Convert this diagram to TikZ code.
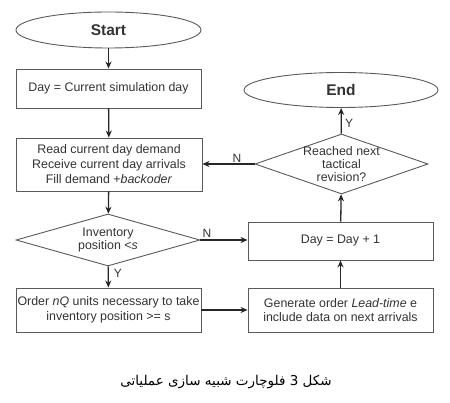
\documentclass[tikz,border=0pt]{standalone}
\usepackage{fontspec}
\setmainfont{Liberation Sans}
\newfontfamily\arabicfont[Script=Arabic]{DejaVu Sans}
\TeXXeTstate=1
\usetikzlibrary{shapes.geometric,arrows.meta}
\definecolor{txt}{HTML}{333333}
\definecolor{edge}{HTML}{5A5A5A}
\begin{document}
\begin{tikzpicture}[x=1pt,y=-1pt,
  every node/.style={text=txt},
  box/.style={draw=edge, line width=0.9pt, rectangle, inner sep=0pt, align=center,
    minimum width=185pt, font=\fontsize{12.4}{15}\selectfont},
  term/.style={draw=edge, line width=0.9pt, ellipse, inner sep=0pt,
    font=\fontsize{15.5}{17}\selectfont\bfseries},
  dec/.style={draw=edge, line width=0.9pt, diamond, align=center, inner xsep=-12pt, inner ysep=-8pt,
    font=\fontsize{12.4}{13}\selectfont},
  arr/.style={draw=black!85, line width=1.3pt, -{Stealth[length=7pt,width=6pt]}},
  lab/.style={font=\fontsize{12}{13}\selectfont, inner sep=0pt}]
\useasboundingbox (0,0) rectangle (450,403);
\fill[white] (0,0) rectangle (450,403);
\node[term, minimum width=185pt, minimum height=36pt] (start) at (108.5,30) {Start};
\node[box, minimum height=39pt] (b1) at (108.5,88.5) {Day = Current simulation day};
\node[box, minimum width=186pt, minimum height=53pt] (b2) at (109,164.5)
  {Read current day demand\\Receive current day arrivals\\Fill demand +\textit{backoder}};
\node[dec, minimum width=184pt, minimum height=52pt, shape aspect=3.54] (d1) at (108,240)
  {Inventory\\position <\textit{s}};
\node[box, minimum height=44pt, font=\fontsize{12.4}{14.5}\selectfont] (b4) at (108.5,310)
  {Order \textit{nQ} units necessary to take\\inventory position >= s};
\node[box, minimum height=44pt, font=\fontsize{12.4}{14.5}\selectfont] (b5) at (340.5,310)
  {Generate order \textit{Lead-time} e\\include data on next arrivals};
\node[box, minimum height=38pt] (b6) at (340.5,241) {Day = Day + 1};
\node[dec, minimum width=173pt, minimum height=60pt, shape aspect=2.88] (d2) at (341.5,164)
  {Reached next\\tactical\\revision?};
\node[term, minimum width=194pt, minimum height=35pt] (end) at (341,90) {End};
\draw[arr] (start) -- (b1);
\draw[arr] (b1) -- (b2);
\draw[arr] (b2) -- (d1);
\draw[arr] (d1) -- (b4);
\draw[arr] (d1.east) -- (b6.west |- d1.east);
\draw[arr] (b4) -- (b5);
\draw[arr] (b5) -- (b6);
\draw[arr] (b6) -- (d2);
\draw[arr] (d2) -- (end);
\draw[arr] (d2.west) -- (b2.east |- d2.west);
\node[lab] (ln1) at (207,233) {N};
\node[lab] (ly1) at (118,273) {Y};
\node[lab] (ln2) at (237,158) {N};
\node[lab] (ly2) at (349,123) {Y};
\node[font=\fontsize{13.5}{15}\selectfont, text=black] (cap) at (226,382)
  {\arabicfont\beginR شکل 3 فلوچارت شبیه سازی عملیاتی\endR};
\end{tikzpicture}
\end{document}
